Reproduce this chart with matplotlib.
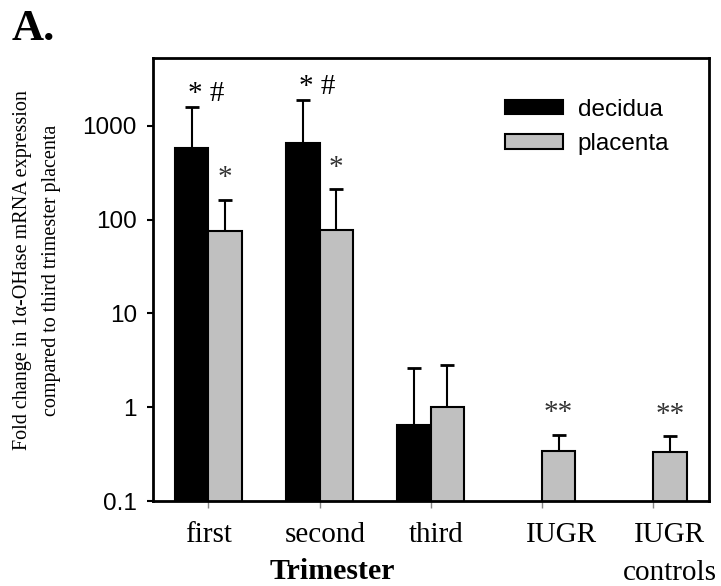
import numpy as np
import matplotlib
matplotlib.use("Agg")
import matplotlib.pyplot as plt
import matplotlib.transforms as mtransforms

# values
groups = ['first', 'second', 'third', 'IUGR', 'IUGR\ncontrols']
decidua = [580, 650, 0.63]
decidua_err = [1020, 1230, 1.97]
placenta = [76, 78, 1.0, 0.33, 0.32]
placenta_err = [87, 135, 1.8, 0.18, 0.17]
decidua_marks = ['* #', '* #', '']
placenta_marks = ['*', '*', '', '**', '**']

serif = 'Liberation Serif'
sans = 'Liberation Sans'

fig = plt.figure(figsize=(7.21, 5.86), dpi=100)
ax = fig.add_axes([0.212, 0.145, 0.771, 0.756])

x = np.arange(len(groups))
xd = x[:len(decidua)]
w = 0.3

ax.bar(xd, decidua, width=-w, align='edge', bottom=0.01, color='black',
       edgecolor='black', linewidth=1.5, label='decidua', zorder=2)
ax.bar(x, placenta, width=w, align='edge', bottom=0.01, color='#c0c0c0',
       edgecolor='black', linewidth=1.5, label='placenta', zorder=2)

ax.errorbar(xd - w / 2, decidua, yerr=[np.zeros(len(decidua)), decidua_err],
            fmt='none', ecolor='black', elinewidth=1.5, capsize=5, capthick=2, zorder=1)
ax.errorbar(x + w / 2, placenta, yerr=[np.zeros(len(placenta)), placenta_err],
            fmt='none', ecolor='black', elinewidth=1.5, capsize=5, capthick=2, zorder=1)

# significance marks above the error bars
for i, m in enumerate(decidua_marks):
    if m:
        ax.annotate(m, (xd[i] - w / 2 + 0.13, decidua[i] + decidua_err[i]),
                    xytext=(0, 0), textcoords='offset points', ha='center', va='bottom',
                    fontsize=21, family=serif)
for i, m in enumerate(placenta_marks):
    if m:
        ax.annotate(m, (x[i] + w / 2, placenta[i] + placenta_err[i]),
                    xytext=(0, 6), textcoords='offset points', ha='center', va='bottom',
                    fontsize=21, family=serif, color='#333333')

ax.set_yscale('log')
ax.set_ylim(0.1, 5300)
ax.set_xlim(-0.5, 4.5)
ax.set_yticks([0.1, 1, 10, 100, 1000])
ax.set_yticklabels(['0.1', '1', '10', '100', '1000'], family=sans, fontsize=17.5)
ax.yaxis.set_minor_locator(matplotlib.ticker.NullLocator())
ax.tick_params(axis='y', length=4.5, width=1.5, pad=7)

ax.set_xticks(x)
ax.set_xticklabels(groups, family=serif, fontsize=21, linespacing=1.6, va='top')
ax.tick_params(axis='x', length=5, width=1, pad=10, color='#888888')
# IUGR labels sit a bit right of their ticks in the original
shifts = [0, 4, 4, 14, 12]
for lab, dx in zip(ax.get_xticklabels(), shifts):
    lab.set_transform(lab.get_transform() + mtransforms.ScaledTranslation(dx / 72, 0, fig.dpi_scale_trans))

for s in ax.spines.values():
    s.set_linewidth(2)

ax.set_xlabel('Trimester', family=serif, fontsize=21.5, fontweight='bold')
ax.xaxis.set_label_coords(0.322, -0.128)

fig.text(0.051, 0.539, 'Fold change in 1\u03b1-OHase mRNA expression\ncompared to third trimester placenta',
         rotation=90, ha='center', va='center', family=serif, fontsize=14.5, linespacing=1.7)
fig.text(0.016, 0.985, 'A.', ha='left', va='top', family=serif, fontsize=32, fontweight='bold')

ax.legend(loc='upper left', bbox_to_anchor=(0.616, 0.93), frameon=False,
          prop={'family': sans, 'size': 17.5}, handlelength=2.4, handleheight=0.55,
          handletextpad=0.6, labelspacing=0.5, borderaxespad=0)

fig.savefig('out.png', dpi=100)
